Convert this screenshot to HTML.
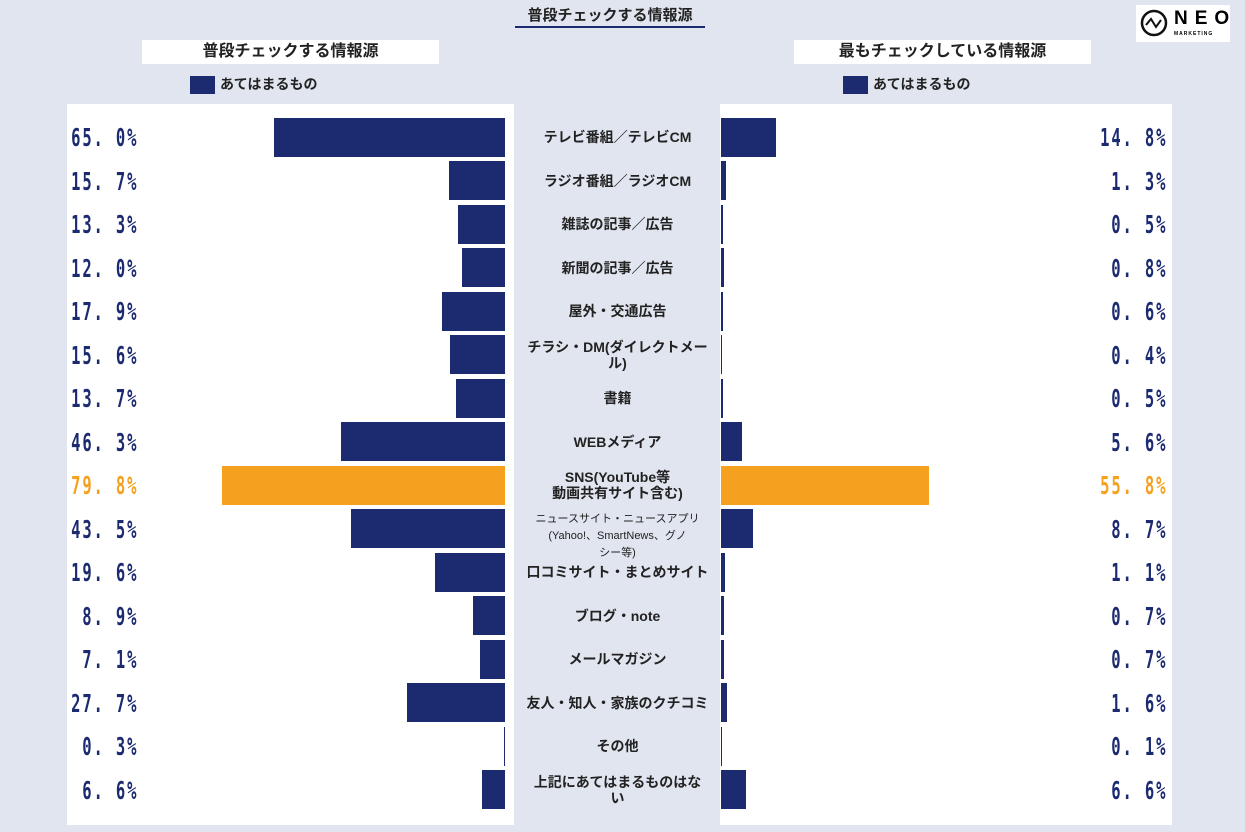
<!DOCTYPE html>
<html><head><meta charset="utf-8"><style>
body{margin:0;width:1245px;height:832px;background:#e0e5ef;position:relative;overflow:hidden;font-family:"Liberation Sans","Noto Sans CJK JP",sans-serif;}
.a{position:absolute}
.panel{background:#fff;position:absolute}
.bar{position:absolute;background:#1c2a70;height:39px}
.o{background:#f5a01e}
.pct{position:absolute;font-size:25px;color:#1c2a70;letter-spacing:3px;transform:scaleX(0.62);white-space:nowrap;font-family:"DejaVu Sans Mono","Liberation Mono",monospace;font-weight:bold;line-height:26px;transform-origin:right center}
.pl{right:1107px}
.pr{right:78px}
.lab{position:absolute;left:515px;width:205px;text-align:center;font-size:14px;color:#222;font-weight:bold;line-height:16px}
.hdr{position:absolute;background:#fff;height:24px;font-size:16px;font-weight:bold;text-align:center;line-height:24px;color:#222}
.leg{position:absolute;font-size:14px;color:#222;font-weight:bold}
.leg span{display:inline-block;width:25px;height:18px;background:#1c2a70;vertical-align:middle;margin-right:5px}
</style></head><body>
<div class="a" style="left:515px;top:4px;width:190px;text-align:center;font-size:15px;font-weight:bold;color:#222">普段チェックする情報源</div>
<div class="a" style="left:515px;top:26px;width:190px;height:2px;background:#1c2a70"></div>
<div class="a" style="left:1136px;top:5px;width:94px;height:37px;background:#fff">
<svg width="94" height="37"><circle cx="18" cy="18" r="12" fill="none" stroke="#111" stroke-width="2.5"/><path d="M10 20 L15 14 L20 22 L25 15" fill="none" stroke="#111" stroke-width="2"/></svg>
<div class="a" style="left:38px;top:3px;font-size:19px;font-weight:bold;letter-spacing:7px">NEO</div>
<div class="a" style="left:38px;top:26px;font-size:5px;font-weight:bold;letter-spacing:1px">MARKETING</div></div>
<div class="hdr" style="left:142px;top:40px;width:297px">普段チェックする情報源</div>
<div class="hdr" style="left:794px;top:40px;width:297px">最もチェックしている情報源</div>
<div class="leg" style="left:190px;top:74px"><span></span>あてはまるもの</div>
<div class="leg" style="left:843px;top:74px"><span></span>あてはまるもの</div>
<div class="panel" style="left:67px;top:104px;width:447px;height:721px"></div>
<div class="panel" style="left:720px;top:104px;width:452px;height:721px"></div>
<div id="rows"></div>
<script>
var d=[["テレビ番組／テレビCM",65.0,14.8],["ラジオ番組／ラジオCM",15.7,1.3],["雑誌の記事／広告",13.3,0.5],["新聞の記事／広告",12.0,0.8],["屋外・交通広告",17.9,0.6],["チラシ・DM(ダイレクトメー<br>ル)",15.6,0.4],["書籍",13.7,0.5],["WEBメディア",46.3,5.6],["SNS(YouTube等<br>動画共有サイト含む)",79.8,55.8],["<span style='font-size:11px;line-height:13px;font-weight:normal'>ニュースサイト・ニュースアプリ<br>(Yahoo!、SmartNews、グノ<br>シー等)</span>",43.5,8.7],["口コミサイト・まとめサイト",19.6,1.1],["ブログ・note",8.9,0.7],["メールマガジン",7.1,0.7],["友人・知人・家族のクチコミ",27.7,1.6],["その他",0.3,0.1],["上記にあてはまるものはな<br>い",6.6,6.6]];
var h="";
d.forEach(function(r,i){var c=137+i*43.5;var o=i==8;
var lw=Math.max(r[1]*3.547,1),rw=Math.max(r[2]*3.73,1);
var col=o?"color:#f5a01e;":"";
h+='<div class="bar'+(o?' o':'')+'" style="left:'+(505-lw)+'px;width:'+lw+'px;top:'+(c-19.5)+'px"></div>';
h+='<div class="bar'+(o?' o':'')+'" style="left:721px;width:'+rw+'px;top:'+(c-19.5)+'px"></div>';
function f(v){var s=v.toFixed(1).split(".");return s[0]+". "+s[1]+"%";}
h+='<div class="pct pl" style="top:'+(c-12)+'px;'+col+'">'+f(r[1])+'</div>';
h+='<div class="pct pr" style="top:'+(c-12)+'px;'+col+'">'+f(r[2])+'</div>';
var n=(r[0].match(/<br>/g)||[]).length+1;var lh=(i==9?13:16);
h+='<div class="lab" style="top:'+(c-n*lh/2)+'px">'+r[0]+'</div>';});
document.getElementById("rows").innerHTML=h;
</script>
</body></html>
